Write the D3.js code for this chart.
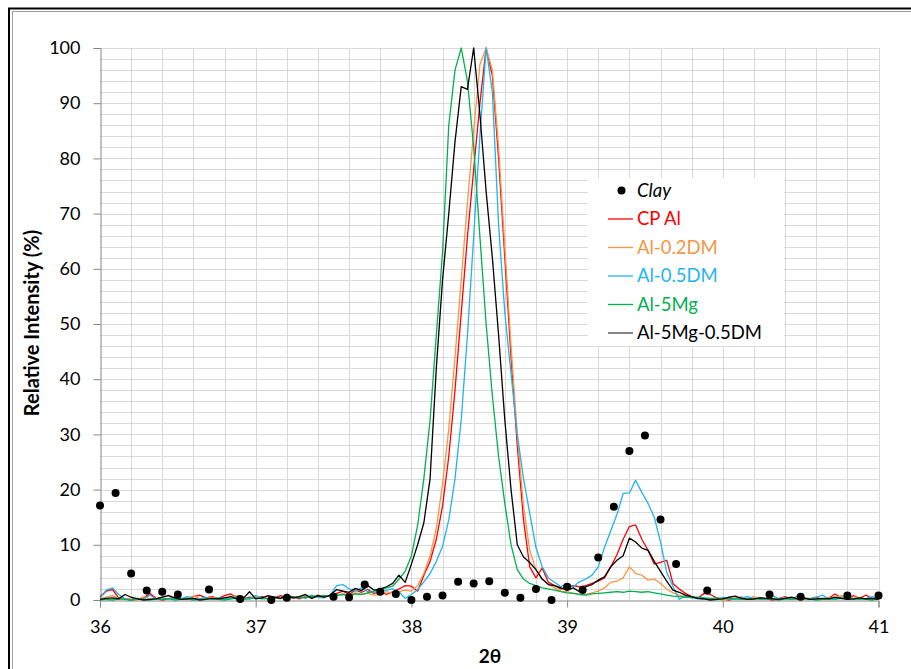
<!DOCTYPE html>
<html>
<head>
<meta charset="utf-8">
<script src="https://cdn.jsdelivr.net/npm/d3@7"></script>
<style>
  html, body { margin: 0; padding: 0; background: #fff; }
  svg { display: block; }
  text { font-family: Lato, "Open Sans", sans-serif; }
</style>
</head>
<body>
<svg id="chart" width="911" height="669"></svg>
<script>
// 2θ scan positions (0.04° step) shared by all diffraction curves
const twoTheta = d3.range(126).map(i => +(36 + i * 0.04).toFixed(2));

const cpAl = [
  0.6,1.6,1.9,0.4,0.2, 0,0.1,0.3,1.2,0.3, 0,0.2,0.5,0.3,0.1, 0.6,0.9,0.4,0.6,0.3,
  0.8,1.1,0.4,0.2,0.5, 0.3,0.6,0.2,0.4,0.8, 0.3,0.5,0.2,0.7,0.4, 0.9,0.5,0.8,1.2,1.6,
  1.0,1.8,1.4,1.9,1.2,
  1.5,1.0,1.5,2.0,2.6, 2.5,1.6,4.5,7.0,11, 17,26,38,52,65.8, 78,90,100,95,80,
  62,44,28,14.5,6.0, 4.0,5.8,3.2,2.6,2.0, 2.2,2.6,2.4,2.6,3.0, 3.4,4.0,6.0,8.2,11.0,
  13.3,13.6,11.0,9.0,6.5, 6.8,7.2,3.0,2.0,1.2, 0.6,
  0.3,1.2,1.0,0.4,0.2, 0,0.3,0.5,0.2,0.1, 0.4,0.2,0,0.3,0.6, 0.2,0.1,0.3,0.2,0.5,
  0.1,0.3,1.1,0.4,0.2, 0.8,0.3,0.9,0.2,0.1
];

const al02DM = [
  0.2,0.5,0.8,0.3,0.1, 0.4,0,0.6,0.2,0.3, 0.5,0.9,0.2,0.1,0.4, 0.7,0.3,0.2,0.5,0.3,
  0.2,0.6,0.8,0.4,0.2, 0.5,0.3,0.7,0.4,0.2, 0.6,0.3,0.5,0.8,0.4, 0.6,0.9,0.5,0.8,1.1,
  0.9,1.3,1.0,1.2,0.9,
  1.0,1.5,1.2,1.5,1.8, 1.6,2.6,4.8,8,13, 21,31,44,58,72, 85,97,100,96,82,
  64,46,30,17,9, 5.5,3.8,2.8,2.2,1.6, 1.5,1.2,1.0,1.0,1.3, 1.6,2.2,3.2,3.4,4.0,
  6.0,4.8,4.5,3.6,3.8, 3.0,2.0,1.3,0.9,0.6, 0.4,
  0.4,0.2,0.1,0.3,0, 0.2,0.4,0.1,0.3,0.6, 0.2,0.1,0.3,0.2,0.5, 0.1,0.2,0.4,0.3,0.1,
  0.2,0.5,0.3,0.8,0.2, 0.6,0.3,0.1,0.2,0.4
];

const al05DM = [
  0.3,1.8,2.2,1.0,0.2, 0,0.3,0.1,0.9,0.2, 0.4,0.1,0.3,0.2,0.6, 0.3,0.2,0.5,0.1,0.4,
  0.3,0.2,0.6,0.4,0.3, 0.8,0.3,0.2,0.5,0.3, 1.1,0.4,0.6,0.3,0.9, 0.5,0.4,1.0,2.6,2.8,
  2.0,1.6,2.2,1.5,1.4,
  1.5,1.8,2.0,1.5,0.3, 1.0,1.9,3.3,4.8,7.0, 9.7,14.5,22,32.6,48, 65.8,84,100,92,68,
  52,41,30,22,15.7, 9.5,6,4,3.2,2.4, 3.0,2.4,3.3,3.8,4.5, 6.0,9.5,12.5,15.5,19.3,
  19.4,21.7,19.5,17.5,15.0, 10.5,5.0,2.5,0.1,0.8, 0.4,
  0.2,0.1,0.3,0,0.5, 0.2,0.1,0.4,0.6,0.2, 0.3,0.1,0.8,0.2,0.4, 0.1,0.7,0.3,0.2,0.5,
  0.9,0.2,0.3,0.4,0.8, 0.2,0.1,0.3,0.6,0.2
];

const al5Mg = [
  0,0.1,0,0.2,0.1, 0,0.3,0.1,0,0.2, 0.1,0.3,0,0.1,0.2, 0,0.1,0.3,0.2,0.1,
  0,0.2,0.3,0.1,0.2, 0.4,0.2,0.3,0.5,0.3, 0.4,0.6,0.4,0.5,0.7, 0.6,0.8,0.7,0.9,1.0,
  0.9,1.1,1.0,1.3,1.6,
  1.9,2.2,2.5,3.8,5.2, 8.0,13.5,22,32.6,48, 63,86,96,100,94, 82,65.8,50,37,26,
  17.5,10,5.5,3.8,3.0, 2.6,2.2,2.0,1.8,1.5, 1.3,1.2,1.0,0.9,1.1, 1.2,1.3,1.4,1.5,1.4,
  1.6,1.5,1.4,1.5,1.3, 1.1,0.9,0.7,0.6,0.5, 0.5,
  0.5,0.4,0.3,0.4,0.2, 0.3,0.2,0.1,0.2,0.3, 0.1,0.2,0.1,0,0.2, 0.1,0.3,0.1,0.2,0,
  0.1,0.2,0.1,0.3,0.2, 0.1,0.2,0.1,0,0.2
];

const al5Mg05DM = [
  0.1,0.3,0.4,0.2,1.0, 0.5,0.2,0,0.1,0.2, 0.5,0.8,0.4,0.1,0.2, 0.3,0,0.1,0.3,0.2,
  0.4,0.6,0.2,0.3,1.5, 0.2,0.4,0.8,0.5,0.3, 0.9,0.4,0.6,1.0,0.3, 0.8,0.5,0.9,1.9,1.6,
  1.4,2.1,1.7,2.6,1.8,
  2.0,2.4,3.0,4.5,3.2, 6.5,10,14,22,42, 58,70,83,93,92.5, 100,88,74,62,48,
  32.6,20,10,7.8,6.8, 5.5,3.8,2.8,2.6,2.2, 1.8,2.2,1.5,2.4,2.8, 3.6,4.2,6.0,7.2,8.0,
  11.2,10.5,9.4,9.0,7.0, 5.2,3.4,1.8,1.4,0.9, 0.6,
  0.3,0.2,0,0.1,0.2, 0.5,0.7,0.3,0.1,0.2, 0.4,0.3,0.2,0.1,0.3, 0.5,0.2,0.4,0.1,0.2,
  0.3,0.2,0.5,0.3,0.1, 0.2,0.4,0.2,0.3,0.1
];

// Clay reference pattern, sampled every 0.1°
const clayTheta = [36.0,36.1,36.2,36.3,36.4,36.5,36.7,36.9,37.1,37.2,37.5,37.6,37.7,37.8,37.9,38.0,38.1,38.2,38.3,38.4,38.5,38.6,38.7,38.8,38.9,39.0,39.1,39.2,39.3,39.4,39.5,39.6,39.7,39.9,40.3,40.5,40.8,41.0];
const clayValues = [17.1,19.4,4.8,1.7,1.5,1.0,1.9,0.2,0,0.4,0.6,0.5,2.8,1.5,1.1,0,0.6,0.8,3.3,3.0,3.4,1.3,0.4,2.0,0,2.4,1.8,7.7,16.9,27.0,29.8,14.6,6.5,1.7,1.0,0.6,0.8,0.8];

const seriesNames = ["CP Al", "Al-0.2DM", "Al-0.5DM", "Al-5Mg", "Al-5Mg-0.5DM"];
const seriesValues = [cpAl, al02DM, al05DM, al5Mg, al5Mg05DM];
const seriesColors = ["#ff0000", "#f79646", "#1fb4ee", "#00b050", "#000000"];
const legendTextColors = ["#ff0000", "#f79646", "#1fb4ee", "#00b050", "#000000"];

const xTicks = [36, 37, 38, 39, 40, 41];
const yTicks = [0, 10, 20, 30, 40, 50, 60, 70, 80, 90, 100];

const svg = d3.select("#chart");

// outer chart frame
svg.append("rect").attr("x", 9).attr("y", 8.5).attr("width", 1000).attr("height", 1000)
  .attr("fill", "none").attr("stroke", "#000").attr("stroke-width", 2);
svg.append("rect").attr("x", 12.5).attr("y", 11.5).attr("width", 1000).attr("height", 1000)
  .attr("fill", "none").attr("stroke", "#a0a0a0").attr("stroke-width", 1);

const plotL = 100, plotR = 878.5, plotT = 48, plotB = 600;
const x = d3.scaleLinear().domain([36, 41]).range([plotL, plotR]);
const y = d3.scaleLinear().domain([0, 100]).range([plotB, plotT]);

// minor gridlines: every 0.2° and every 2 %
const grid = svg.append("g").attr("stroke", "#d9d9d9").attr("stroke-width", 1);
d3.range(1, 26).forEach(k => {
  const xv = Math.round(x(36 + k * 0.2)) + 0.5;
  grid.append("line").attr("x1", xv).attr("x2", xv).attr("y1", plotT).attr("y2", plotB);
});
d3.range(1, 51).forEach(k => {
  const yv = Math.round(y(k * 2)) + 0.5;
  grid.append("line").attr("x1", plotL).attr("x2", plotR).attr("y1", yv).attr("y2", yv);
});

// axes
const yAxis = d3.axisLeft(y).tickValues(yTicks).tickSize(7).tickPadding(13).tickFormat(d3.format("d"));
const xAxis = d3.axisBottom(x).tickValues(xTicks).tickSize(7).tickPadding(13).tickFormat(d3.format("d"));
const gy = svg.append("g").attr("transform", `translate(${plotL + 0.5},0)`).call(yAxis);
const gx = svg.append("g").attr("transform", `translate(0,${plotB + 0.5})`).call(xAxis);
[gx, gy].forEach(g => {
  g.select(".domain").attr("stroke", "#868686").attr("stroke-width", 1);
  g.selectAll(".tick line").attr("stroke", "#868686");
  g.selectAll(".tick text").attr("fill", "#000").attr("font-size", 18)
    .attr("font-family", "Lato, 'Open Sans', sans-serif");
});

// diffraction curves
const line = d3.line().x(d => x(d[0])).y(d => y(d[1]));
seriesValues.forEach((vals, s) => {
  svg.append("path")
    .datum(d3.zip(twoTheta, vals))
    .attr("d", line)
    .attr("fill", "none")
    .attr("stroke", seriesColors[s])
    .attr("stroke-width", 1.3)
    .attr("stroke-linejoin", "round");
});

// clay markers
svg.append("g").selectAll("circle")
  .data(d3.zip(clayTheta, clayValues))
  .join("circle")
  .attr("cx", d => x(d[0]))
  .attr("cy", d => y(d[1]))
  .attr("r", 4)
  .attr("fill", "#000");

// axis titles
svg.append("text").attr("x", 490).attr("y", 663).attr("text-anchor", "middle")
  .attr("font-size", 19).attr("font-weight", "bold").text("2θ");
svg.append("text").attr("transform", "translate(39,323) rotate(-90)")
  .attr("text-anchor", "middle").attr("font-size", 20).attr("font-weight", "bold")
  .text("Relative Intensity (%)");

// legend
const lg = svg.append("g");
lg.append("rect").attr("x", 588).attr("y", 178).attr("width", 196).attr("height", 168).attr("fill", "#fff");
const rowY = [190.5, 219, 247.5, 276, 304.5, 333];
lg.append("circle").attr("cx", 621.5).attr("cy", rowY[0]).attr("r", 4).attr("fill", "#000");
lg.append("text").attr("x", 637).attr("y", rowY[0]).attr("dy", "0.35em")
  .attr("font-size", 18.5).attr("font-style", "italic").attr("fill", "#000").text("Clay");
seriesNames.forEach((name, s) => {
  const yy = rowY[s + 1];
  lg.append("line").attr("x1", 608).attr("x2", 633).attr("y1", yy).attr("y2", yy)
    .attr("stroke", s === 4 ? "#404040" : seriesColors[s]).attr("stroke-width", 1.3);
  lg.append("text").attr("x", 637).attr("y", yy).attr("dy", "0.35em")
    .attr("font-size", 18.5).attr("fill", legendTextColors[s]).text(name);
});
</script>
</body>
</html>
